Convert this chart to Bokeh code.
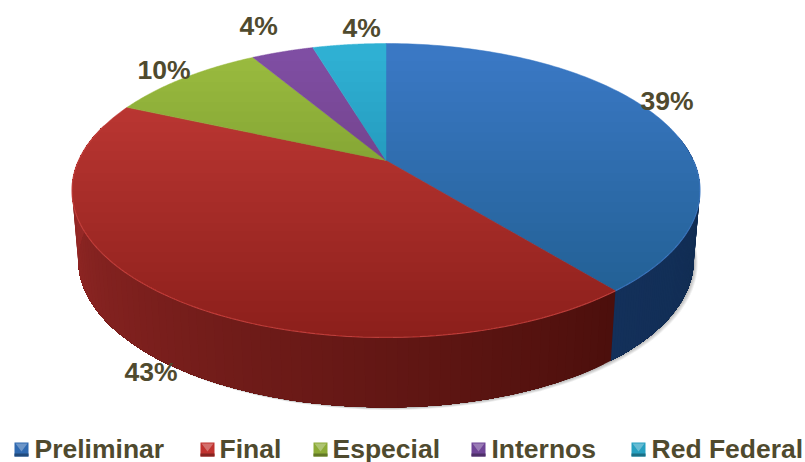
import numpy as np
from bokeh.plotting import figure
from bokeh.models import Range1d
from bokeh.core.properties import value
from bokeh.embed import file_html
from bokeh.resources import INLINE

categories = ["Preliminar", "Final", "Especial", "Internos", "Red Federal"]
shares = [39.2, 42.5, 9.8, 3.9, 4.6]
labels = ["39%", "43%", "10%", "4%", "4%"]

top_colors = ["#3a78c4", "#c43b37", "#9abb3f", "#7f4ea3", "#2fb0d3"]
wall_light = ["#13305a", "#a02c2a", "#6f8a2c", "#5a3876", "#1f7f99"]
wall_dark = ["#102b4e", "#4c0f0c", "#4c0f0c", "#3a2350", "#15566a"]
legend_colors = ["#2f69b0", "#c0322f", "#8cab36", "#6f4496", "#27a0c0"]
INK = "#4f4a2e"
FONT = value("Liberation Sans")
W, H = 805, 462

p = figure(width=W, height=H, x_range=Range1d(0, 805), y_range=Range1d(462, 0),
           output_backend="svg", toolbar_location=None, min_border=0)
p.axis.visible = False
p.grid.visible = False
p.outline_line_color = None
p.background_fill_color = "white"
p.border_fill_color = "white"

CX, APEX, RX, A, C = 385.5, 160.0, 307.4, -108.2, 0.204
DEPTH = 70.0

def project(theta):
    u, v = np.sin(theta), np.cos(theta)
    d = 1 + C * v
    return CX + RX * u / d, (A * v + APEX) / d

def lower(x, y):
    return CX + (x - CX) * 0.98, y + DEPTH

def mix(c1, c2, t):
    a = [int(c1[i:i + 2], 16) for i in (1, 3, 5)]
    b = [int(c2[i:i + 2], 16) for i in (1, 3, 5)]
    return "#%02x%02x%02x" % tuple(round(x + (y - x) * t) for x, y in zip(a, b))

edges = 2 * np.pi * np.concatenate([[0], np.cumsum(shares)]) / sum(shares)

# soft shadow under the lower right rim
t_all = np.linspace(0, 2 * np.pi, 361)
xa, ya = project(t_all)
xl, yl = lower(xa, ya)
for off in (5, 4, 3, 2, 1):
    p.patch(xl + off * 0.8, yl + off * 0.5, fill_color="#000000", fill_alpha=0.06, line_color=None)

# side walls: visible lower half of the rim, painted right to left in steps
for i in (0, 1):
    t0, t1 = edges[i], edges[i + 1]
    if i == 0:
        t0 = max(t0, np.radians(80))
    else:
        t1 = min(t1, np.radians(285))
    n = 90
    steps = np.linspace(t0, t1, n)
    for k in range(n - 1):
        ts = np.linspace(steps[k], t1, max(2, n - k))
        x, y = project(ts)
        xb, yb = lower(x, y)
        f = k / (n - 2)
        col = mix(wall_dark[i], wall_light[i], f)
        p.patch(np.r_[x, xb[::-1]], np.r_[y, yb[::-1]], fill_color=col, line_color=None)

# top face
for i in range(5):
    ts = np.linspace(edges[i], edges[i + 1], 120)
    x, y = project(ts)
    p.patch(np.r_[CX, x], np.r_[APEX, y], fill_color=top_colors[i],
            line_color=top_colors[i], line_width=0.5)

# vertical darkening of the top face, accumulated translucent layers
xo, yo = project(np.linspace(0, 2 * np.pi, 361))
for thr in np.linspace(60, 330, 28):
    mask = yo >= thr
    if mask.sum() > 2:
        start = np.argmax(mask & ~np.roll(mask, 1))
        xr, yr = np.roll(xo, -start), np.roll(yo, -start)
        keep = yr >= thr
        p.patch(xr[keep], yr[keep], fill_color="#1a1a1a", fill_alpha=0.007, line_color=None)

# thin bevel highlight along the front rim of the top face
for i in (0, 1):
    t0, t1 = edges[i], edges[i + 1]
    t0 = max(t0, np.radians(90))
    t1 = min(t1, np.radians(285))
    x, y = project(np.linspace(t0, t1, 120))
    p.line(x, y, line_color=mix(top_colors[i], "#ffffff", 0.08), line_width=1.2, line_alpha=0.6)

# percent labels
lab_x = [640, 124, 137, 239, 342]
lab_y = [100, 371, 69, 25, 27]
p.text(lab_x, lab_y, text=labels, text_font=FONT, text_font_style="bold",
       text_font_size="26.5px", text_color=INK, text_baseline="middle", text_align="left")

# legend
mark_x = [14, 200, 313, 471, 631]
text_x = [34, 219, 332, 491, 651]
for i, name in enumerate(categories):
    mx = mark_x[i]
    p.quad(left=mx, right=mx + 14, top=442, bottom=456, fill_color=legend_colors[i], line_color=None)
    p.patch([mx + 1, mx + 13, mx + 7], [443, 443, 451],
            fill_color=mix(legend_colors[i], "#ffffff", 0.3), line_color=None)
    p.quad(left=mx, right=mx + 14, top=453, bottom=456,
           fill_color=mix(legend_colors[i], "#000000", 0.3), line_color=None)
p.text(text_x, [448] * 5, text=categories, text_font=FONT, text_font_style="bold",
       text_font_size="26.5px", text_color=INK, text_baseline="middle", text_align="left")

open("out.html", "w").write(file_html(p, INLINE))
